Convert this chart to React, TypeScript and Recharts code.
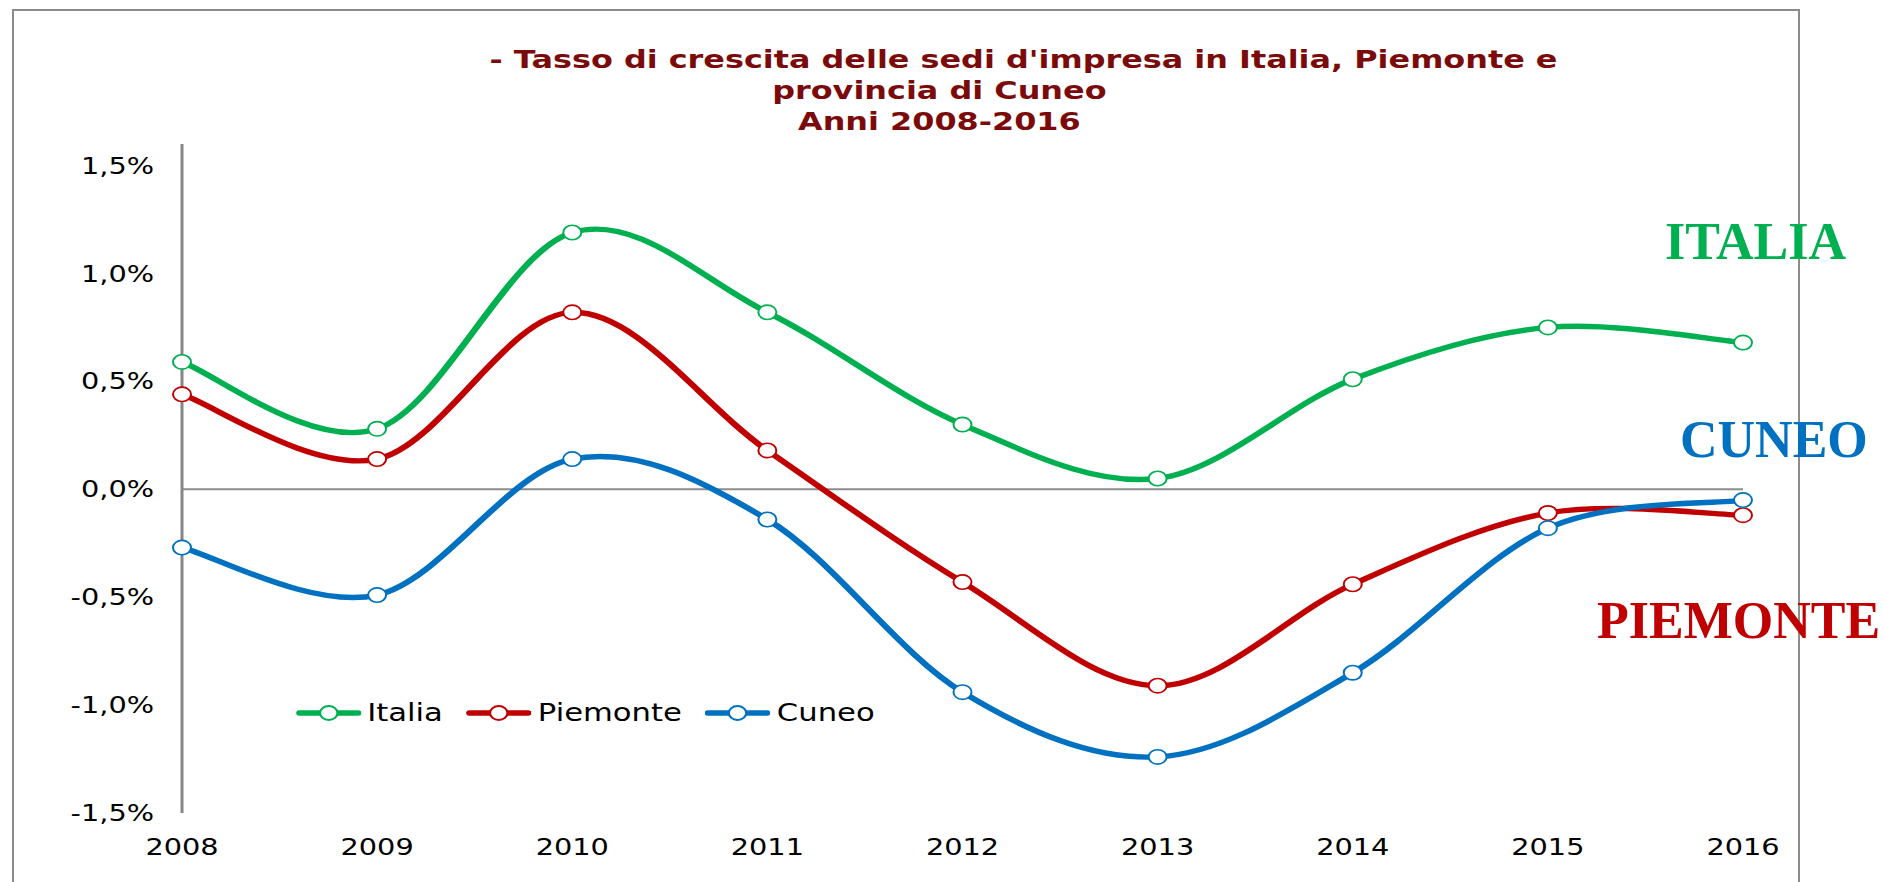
import React from 'react';
import { LineChart, Line, XAxis, YAxis, ReferenceLine, Legend } from 'recharts';

// ---- data (values in %) ----
const YEARS = ['2008', '2009', '2010', '2011', '2012', '2013', '2014', '2015', '2016'];
const ITALIA = [0.59, 0.28, 1.19, 0.82, 0.30, 0.05, 0.51, 0.75, 0.68];
const PIEMONTE = [0.44, 0.14, 0.82, 0.18, -0.43, -0.91, -0.44, -0.11, -0.12];
const CUNEO = [-0.27, -0.49, 0.14, -0.14, -0.94, -1.24, -0.85, -0.18, -0.05];
const Y_TICKS = [-1.5, -1.0, -0.5, 0, 0.5, 1.0, 1.5];
const SERIES_KEYS = ['italia', 'piemonte', 'cuneo'];
const SERIES_NAMES = ['Italia', 'Piemonte', 'Cuneo'];
const SIDE_LABELS = ['ITALIA', 'CUNEO', 'PIEMONTE'];
const TITLE_LINES = [
  "- Tasso di crescita delle sedi d'impresa in Italia, Piemonte e",
  'provincia di Cuneo',
  'Anni 2008-2016',
];

const COLORS: Record<string, string> = {
  italia: '#00B050',
  piemonte: '#C00000',
  cuneo: '#0070C0',
};

const data = YEARS.map((y, i) => ({
  year: y,
  italia: ITALIA[i],
  piemonte: PIEMONTE[i],
  cuneo: CUNEO[i],
}));

// horizontal stretch of the original picture
const SX = 1.25;
const W = 1883;
const H = 882;
const CW = W / SX;

// Excel-like smoothed line (Catmull-Rom -> Bezier)
function excelCurve(context: any) {
  let pts: number[][] = [];
  return {
    areaStart() {},
    areaEnd() {},
    lineStart() {
      pts = [];
    },
    lineEnd() {
      const n = pts.length;
      if (n === 0) return;
      context.moveTo(pts[0][0], pts[0][1]);
      for (let i = 0; i < n - 1; i++) {
        const p0 = pts[Math.max(i - 1, 0)];
        const p1 = pts[i];
        const p2 = pts[i + 1];
        const p3 = pts[Math.min(i + 2, n - 1)];
        context.bezierCurveTo(
          p1[0] + (p2[0] - p0[0]) / 6,
          p1[1] + (p2[1] - p0[1]) / 6,
          p2[0] - (p3[0] - p1[0]) / 6,
          p2[1] - (p3[1] - p1[1]) / 6,
          p2[0],
          p2[1]
        );
      }
    },
    point(x: number, y: number) {
      pts.push([+x, +y]);
    },
  };
}

const fmtPct = (v: number) => v.toFixed(1).replace('.', ',') + '%';

const XTick = (props: any) => {
  const { x, y, payload } = props;
  return (
    <text x={x} y={y + 42} textAnchor="middle" fontSize={23} fontFamily="DejaVu Sans" fill="#000">
      {payload.value}
    </text>
  );
};

const YTick = (props: any) => {
  const { x, y, payload } = props;
  return (
    <text x={x - 22.4} y={y} dy="0.35em" textAnchor="end" fontSize={23} fontFamily="DejaVu Sans" fill="#000">
      {fmtPct(payload.value)}
    </text>
  );
};

const renderLegend = () => (
  <div style={{ display: 'flex', alignItems: 'center', fontFamily: 'DejaVu Sans', fontSize: 24.5, color: '#000', whiteSpace: 'nowrap' }}>
    {SERIES_KEYS.map((k, i) => (
      <div key={k} style={{ display: 'flex', alignItems: 'center', marginRight: 19 }}>
        <svg width={52} height={20} style={{ display: 'block' }}>
          <line x1={2.5} y1={10} x2={49.5} y2={10} stroke={COLORS[k]} strokeWidth={5.5} strokeLinecap="round" />
          <circle cx={26} cy={10} r={7} fill="#fff" stroke={COLORS[k]} strokeWidth={1.8} />
        </svg>
        <span style={{ marginLeft: 5, lineHeight: '28px' }}>{SERIES_NAMES[i]}</span>
      </div>
    ))}
  </div>
);

const titleProps = {
  textAnchor: 'middle' as const,
  fontFamily: 'DejaVu Sans',
  fontWeight: 'bold',
  fontSize: 25.5,
  fill: '#7b0b0b',
};

export default function App() {
  return (
    <div style={{ position: 'absolute', left: 0, top: 0, width: W, height: H, overflow: 'hidden', background: '#fff' }}>
      {/* outer frame */}
      <div
        style={{
          position: 'absolute',
          left: 12,
          top: 9,
          width: 1788,
          height: 1000,
          border: '2px solid #8c8c8c',
          boxSizing: 'border-box',
        }}
      />
      {/* stretched chart */}
      <div
        style={{
          position: 'absolute',
          left: 0,
          top: 0,
          width: CW,
          height: H,
          transform: `scaleX(${SX})`,
          transformOrigin: '0 0',
        }}
      >
        <svg width={CW} height={H} style={{ position: 'absolute', left: 0, top: 0 }}>
          <text x={818.8} y={68.5} {...titleProps}>
            {TITLE_LINES[0]}
          </text>
          <text x={751.5} y={99} {...titleProps}>
            {TITLE_LINES[1]}
          </text>
          <text x={751.5} y={130} {...titleProps}>
            {TITLE_LINES[2]}
          </text>
        </svg>
        <div style={{ position: 'absolute', left: 0, top: 0 }}>
          <LineChart
            width={CW}
            height={H}
            data={data}
            margin={{ top: 144, right: CW - 1394.4, bottom: 9, left: 0 }}
          >
            <XAxis
              dataKey="year"
              axisLine={false}
              tickLine={false}
              tickSize={0}
              tickMargin={0}
              height={60}
              tick={<XTick />}
              interval={0}
            />
            <YAxis
              type="number"
              domain={[-1.5, 1.6]}
              ticks={Y_TICKS}
              width={145.6}
              axisLine={{ stroke: '#868686', strokeWidth: 2.4 }}
              tickLine={false}
              tickSize={0}
              tickMargin={0}
              tick={<YTick />}
              interval={0}
            />
            <ReferenceLine y={0} stroke="#8c8c8c" strokeWidth={2} />
            <Legend
              layout="horizontal"
              verticalAlign="middle"
              align="center"
              content={renderLegend}
              wrapperStyle={{ left: 236.8, top: 699, right: 'auto', bottom: 'auto', width: 'auto', height: 'auto', margin: 0, padding: 0 }}
            />
            {SERIES_KEYS.map((k, i) => (
              <Line
                key={k}
                type={excelCurve as any}
                dataKey={k}
                name={SERIES_NAMES[i]}
                stroke={COLORS[k]}
                strokeWidth={5.4}
                dot={{ r: 7.2, fill: '#fff', stroke: COLORS[k], strokeWidth: 1.6 }}
                activeDot={false}
                isAnimationActive={false}
              />
            ))}
          </LineChart>
        </div>
      </div>
      {/* side annotations */}
      <svg width={W} height={H} style={{ position: 'absolute', left: 0, top: 0, pointerEvents: 'none' }}>
        <text x={1665} y={259} fontFamily="Liberation Serif" fontWeight="bold" fontSize={52} fill={COLORS.italia}>
          {SIDE_LABELS[0]}
        </text>
        <text x={1680} y={457} fontFamily="Liberation Serif" fontWeight="bold" fontSize={52} fill={COLORS.cuneo}>
          {SIDE_LABELS[1]}
        </text>
        <text x={1597} y={638} fontFamily="Liberation Serif" fontWeight="bold" fontSize={52} fill={COLORS.piemonte}>
          {SIDE_LABELS[2]}
        </text>
      </svg>
    </div>
  );
}
